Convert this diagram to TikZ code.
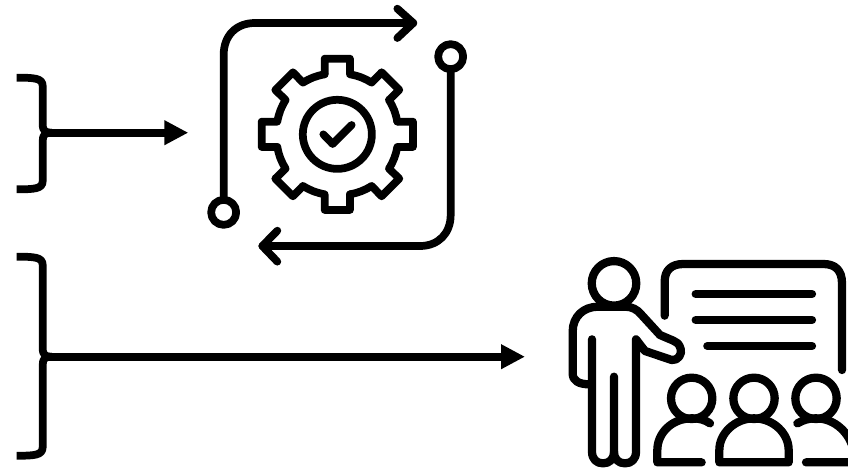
\documentclass[tikz,border=0pt]{standalone}
\usetikzlibrary{arrows.meta}
\tikzset{
  px/.style={x=0.75pt,y=-0.75pt},
  zoomed/.style={x=0.25pt,y=-0.25pt},
  ink/.style={draw=black,line width=5.8pt,line cap=round,line join=round},
  heavyink/.style={draw=black,line width=6.2pt,line cap=round,line join=round},
  brace/.style={draw=black,line width=5.8pt,line cap=butt,line join=round},
  flow/.style={draw=black,line width=6pt,-{Triangle[length=18pt,width=17.5pt]}}
}
\begin{document}
\begin{tikzpicture}[px]
\useasboundingbox (0,0) rectangle (848,468);
\clip (0,0) rectangle (848,468);
% brackets
\coordinate (b1) at (43,132.7);
\coordinate (a1) at (188.3,132.7);
\coordinate (b2) at (43,356.7);
\coordinate (a2) at (525,356.7);
\draw[brace] (16.7,77.7) .. controls (34,77.7) and (42.7,78) .. (42.7,86) -- (42.7,124) .. controls (42.7,131) and (45,132.7) .. (52,132.7);
\draw[brace] (16.7,189.3) .. controls (34,189.3) and (42.7,189) .. (42.7,181) -- (42.7,141) .. controls (42.7,134.5) and (45,132.7) .. (52,132.7);
\draw[brace] (16.7,256.7) .. controls (34,256.7) and (42.7,257) .. (42.7,265) -- (42.7,348) .. controls (42.7,355) and (45,356.7) .. (52,356.7);
\draw[brace] (16.7,455.7) .. controls (34,455.7) and (42.7,455.5) .. (42.7,447) -- (42.7,365) .. controls (42.7,358.5) and (45,356.7) .. (52,356.7);
\draw[flow] (b1) -- (a1);
\draw[flow] (b2) -- (a2);
% process icon
\begin{scope}[shift={(200,0)},zoomed]
\draw[ink] (71,600) -- (71,165) .. controls (71,105) and (110,69) .. (165,69) -- (640,69);
\draw[ink] (592,26) -- (640,69) -- (592,114);
\draw[ink] (71,637) circle[radius=9.4pt];
\draw[ink] (752,170) circle[radius=9.4pt];
\draw[ink] (752,210) -- (752,645) .. controls (752,700) and (715,738) .. (660,738) -- (187,738);
\draw[ink] (232,692) -- (187,738) -- (232,785);
\end{scope}
% gear
\foreach \r in {0,90,180,270}{
\begin{scope}[shift={(337.3,134.3)},rotate=\r,zoomed]
\draw[ink] (-38,-180) -- (-38,-227) -- (38,-227) -- (38,-180) to[bend left=10] (103,-155) -- (133,-186) -- (186,-133) -- (155,-103) to[bend left=10] (180,-38);
\end{scope}}
\begin{scope}[shift={(200,0)},zoomed]
\draw[ink] (412,403) circle[radius=25.9pt];
\draw[ink] (370,403) -- (398,432) -- (455,375);
\end{scope}
% presenter icon
\begin{scope}[shift={(560,250)},zoomed]
\draw[heavyink] (162,100) circle[radius=16.7pt];
\draw[heavyink] (314,197) -- (314,95) .. controls (314,60) and (335,42) .. (370,42) -- (790,42) .. controls (825,42) and (846,60) .. (846,100) -- (846,360);
\draw[heavyink] (407,132) -- (756,132);
\draw[heavyink] (407,210) -- (756,210);
\draw[heavyink] (442,288) -- (756,288);
\draw[heavyink] (96,268) -- (96,605) .. controls (96,628) and (110,640) .. (129,640) .. controls (148,640) and (162,628) .. (162,605) -- (162,380);
\draw[heavyink] (162,605) .. controls (162,628) and (176,640) .. (195,640) .. controls (214,640) and (228,628) .. (228,605) -- (228,268) -- (255,303) -- (335,330) .. controls (355,333) and (367,310) .. (362,297) .. controls (358,282) and (350,275) .. (340,272) -- (300,255) -- (245,195) .. controls (232,178) and (215,170) .. (195,170) -- (115,170) .. controls (70,170) and (38,200) .. (38,245) -- (38,370) .. controls (38,392) and (55,403) .. (90,403);
% audience
\draw[heavyink] (395,445) circle[radius=15.5pt];
\draw[heavyink] (582,445) circle[radius=15.5pt];
\draw[heavyink] (768,445) circle[radius=15.5pt];
\draw[heavyink] (425,637) -- (292,637) -- (292,600) .. controls (292,550) and (335,505) .. (395,505) .. controls (420,505) and (435,510) .. (450,520);
\draw[heavyink] (478,637) -- (478,600) .. controls (478,550) and (525,505) .. (582,505) .. controls (640,505) and (686,550) .. (686,600) -- (686,637) -- cycle;
\draw[heavyink] (738,637) -- (880,637) -- (880,600) .. controls (870,550) and (825,505) .. (768,505) .. controls (745,505) and (730,510) .. (712,520);
\end{scope}
\end{tikzpicture}
\end{document}
